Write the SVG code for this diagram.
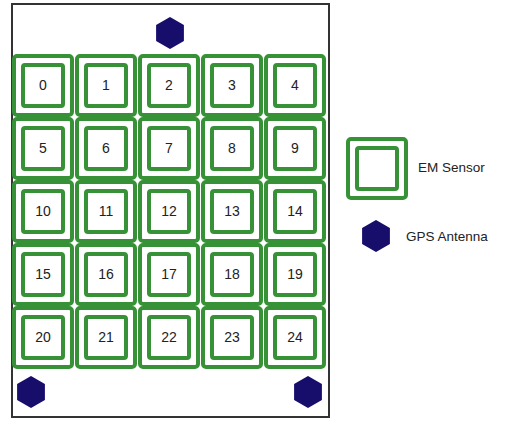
<svg xmlns="http://www.w3.org/2000/svg" width="514" height="421" viewBox="0 0 514 421">
<defs>
<style>
.o{fill:#fff;stroke:#379237;stroke-width:4}
.i{fill:#fff;stroke:#379237;stroke-width:4}
.t{font-family:"Liberation Sans",Arial,sans-serif;font-size:14px;fill:#222;text-anchor:middle}
.l{font-family:"Liberation Sans",Arial,sans-serif;font-size:13.5px;fill:#222}
.h{fill:#170d6b}
</style>
<g id="cell">
<rect class="o" x="0" y="0" width="58" height="59" rx="3"/>
<rect class="i" x="9" y="9" width="40" height="41" rx="2"/>
</g>
<polygon id="hex" points="0,-16 13.9,-8 13.9,8 0,16 -13.9,8 -13.9,-8"/>
</defs>
<rect width="514" height="421" fill="#fff"/>
<rect id="board" x="12" y="4" width="317" height="413" fill="#fff" stroke="#333" stroke-width="2"/>
<g id="sensors">
<g id="s0"><use href="#cell" x="14" y="56"/><text class="t" x="43" y="90">0</text></g>
<g id="s1"><use href="#cell" x="77" y="56"/><text class="t" x="106" y="90">1</text></g>
<g id="s2"><use href="#cell" x="140" y="56"/><text class="t" x="169" y="90">2</text></g>
<g id="s3"><use href="#cell" x="203" y="56"/><text class="t" x="232" y="90">3</text></g>
<g id="s4"><use href="#cell" x="266" y="56"/><text class="t" x="295" y="90">4</text></g>
<g id="s5"><use href="#cell" x="14" y="119"/><text class="t" x="43" y="153">5</text></g>
<g id="s6"><use href="#cell" x="77" y="119"/><text class="t" x="106" y="153">6</text></g>
<g id="s7"><use href="#cell" x="140" y="119"/><text class="t" x="169" y="153">7</text></g>
<g id="s8"><use href="#cell" x="203" y="119"/><text class="t" x="232" y="153">8</text></g>
<g id="s9"><use href="#cell" x="266" y="119"/><text class="t" x="295" y="153">9</text></g>
<g id="s10"><use href="#cell" x="14" y="182"/><text class="t" x="43" y="216">10</text></g>
<g id="s11"><use href="#cell" x="77" y="182"/><text class="t" x="106" y="216">11</text></g>
<g id="s12"><use href="#cell" x="140" y="182"/><text class="t" x="169" y="216">12</text></g>
<g id="s13"><use href="#cell" x="203" y="182"/><text class="t" x="232" y="216">13</text></g>
<g id="s14"><use href="#cell" x="266" y="182"/><text class="t" x="295" y="216">14</text></g>
<g id="s15"><use href="#cell" x="14" y="245"/><text class="t" x="43" y="279">15</text></g>
<g id="s16"><use href="#cell" x="77" y="245"/><text class="t" x="106" y="279">16</text></g>
<g id="s17"><use href="#cell" x="140" y="245"/><text class="t" x="169" y="279">17</text></g>
<g id="s18"><use href="#cell" x="203" y="245"/><text class="t" x="232" y="279">18</text></g>
<g id="s19"><use href="#cell" x="266" y="245"/><text class="t" x="295" y="279">19</text></g>
<g id="s20"><use href="#cell" x="14" y="308"/><text class="t" x="43" y="342">20</text></g>
<g id="s21"><use href="#cell" x="77" y="308"/><text class="t" x="106" y="342">21</text></g>
<g id="s22"><use href="#cell" x="140" y="308"/><text class="t" x="169" y="342">22</text></g>
<g id="s23"><use href="#cell" x="203" y="308"/><text class="t" x="232" y="342">23</text></g>
<g id="s24"><use href="#cell" x="266" y="308"/><text class="t" x="295" y="342">24</text></g>
</g>
<g id="antennas">
<use class="h" href="#hex" x="170" y="33"/>
<use class="h" href="#hex" x="31" y="392"/>
<use class="h" href="#hex" x="308" y="392"/>
</g>
<g id="legend">
<g id="legend-em">
<use href="#cell" x="348" y="139"/>
<text class="l" x="418" y="172">EM Sensor</text>
</g>
<g id="legend-gps">
<use class="h" href="#hex" x="376" y="236"/>
<text class="l" x="406" y="241">GPS Antenna</text>
</g>
</g>
<g id="connectors"/>
</svg>
